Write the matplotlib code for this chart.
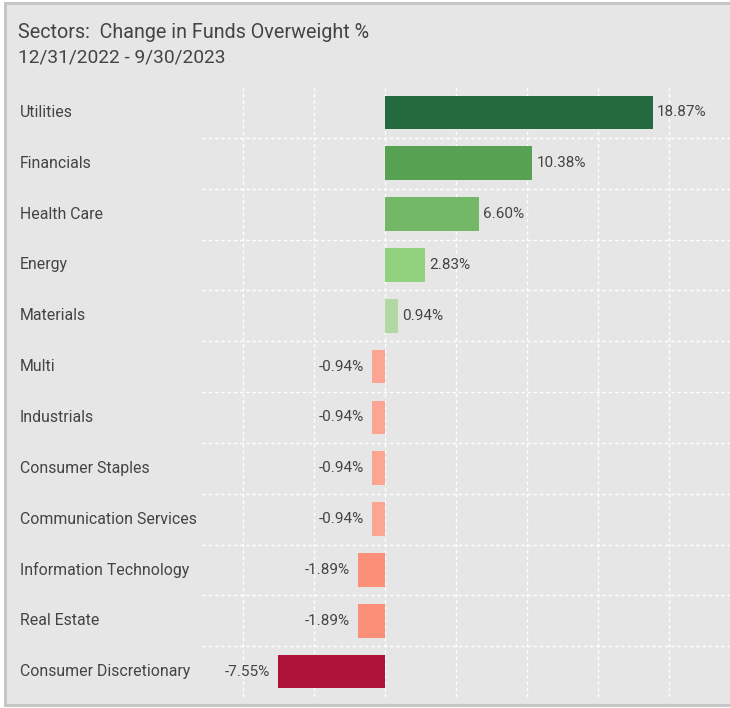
import matplotlib
matplotlib.use("Agg")
import matplotlib.pyplot as plt
from matplotlib.patches import Rectangle
from matplotlib.transforms import offset_copy, blended_transform_factory

categories = ["Utilities", "Financials", "Health Care", "Energy", "Materials",
              "Multi", "Industrials", "Consumer Staples", "Communication Services",
              "Information Technology", "Real Estate", "Consumer Discretionary"]
values = [18.87, 10.38, 6.60, 2.83, 0.94, -0.94, -0.94, -0.94, -0.94, -1.89, -1.89, -7.55]
bar_colors = ["#236a3e", "#57a153", "#72b866", "#91d17e", "#b2d9a2",
              "#fca592", "#fca592", "#fca592", "#fca592", "#fc8f78", "#fc8f78", "#ae1238"]
title_line1 = "Sectors:  Change in Funds Overweight %"
title_line2 = "12/31/2022 - 9/30/2023"

plt.rcParams['font.family'] = ['Roboto', 'DejaVu Sans']
TEXT = "#444444"
BG = "#e6e6e6"

W, H = 730, 708
fig = plt.figure(figsize=(W / 100, H / 100), dpi=100)
fig.patch.set_facecolor("white")

# panel with border
fig.patches.append(Rectangle((5 / W, 3 / H), 1.0, (H - 6) / H, transform=fig.transFigure,
                             facecolor=BG, edgecolor="#c6c6c6", linewidth=2.2, zorder=-10))

ax_left, ax_right = 202 / W, 1.0
ax_top, ax_bottom = 1 - 87 / H, 1 - 697 / H
ax = fig.add_axes([ax_left, ax_bottom, ax_right - ax_left, ax_top - ax_bottom])
ax.set_zorder(1)
ax.patch.set_alpha(0)

y = list(range(len(categories)))
ax.barh(y, values, height=0.66, color=bar_colors, zorder=3)
ax.set_ylim(len(categories) - 0.5, -0.5)
ax.set_xlim(-12.89, 24.3)

# grid
for xv in range(-10, 25, 5):
    ax.axvline(xv, color="white", lw=1.0, ls=(0, (2.5, 2)), zorder=1)
for b in range(1, len(categories)):
    ax.axhline(b - 0.5, color="white", lw=1.0, ls=(0, (2.5, 2)), zorder=1)

for s in ax.spines.values():
    s.set_visible(False)
ax.set_xticks([])
ax.set_yticks([])

# value labels
for yi, v in zip(y, values):
    if v >= 0:
        tr = offset_copy(ax.transData, fig=fig, x=4, y=0, units="dots")
        ax.text(v, yi, f"{v:.2f}%", transform=tr, ha="left", va="center",
                fontsize=11, color=TEXT, zorder=4)
    else:
        tr = offset_copy(ax.transData, fig=fig, x=-8, y=0, units="dots")
        ax.text(v, yi, f"{v:.2f}%", transform=tr, ha="right", va="center",
                fontsize=11, color=TEXT, zorder=4)

# category labels at left of figure
tr_lab = blended_transform_factory(fig.transFigure, ax.transData)
for yi, c in zip(y, categories):
    ax.text(20 / W, yi, c, transform=tr_lab, ha="left", va="center", fontsize=11.4,
            color=TEXT, clip_on=False)

fig.text(18 / W, 1 - 32 / H, title_line1, ha="left", va="center", fontsize=14.2, color=TEXT)
fig.text(18 / W, 1 - 58 / H, title_line2, ha="left", va="center", fontsize=13.8, color=TEXT)

fig.savefig("out.png", dpi=100, facecolor=fig.get_facecolor())
